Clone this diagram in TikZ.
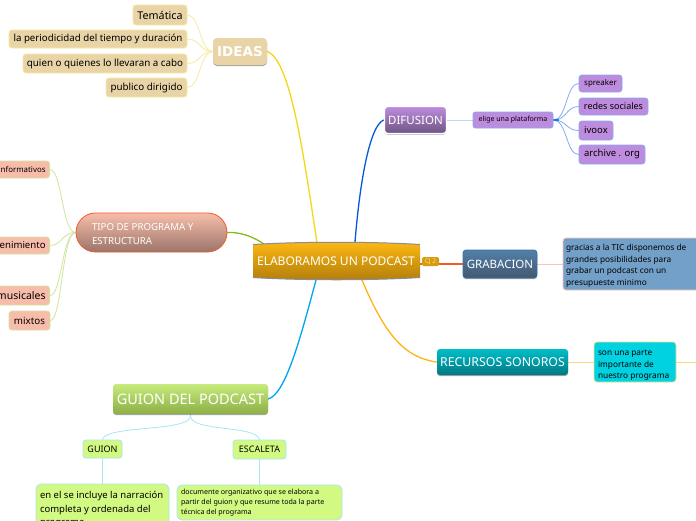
\documentclass[tikz,border=0pt]{standalone}
\usepackage{fontspec}
\setmainfont{Noto Sans}
\newfontfamily\dejab{DejaVu Sans}[BoldFont={DejaVu Sans Bold}]
\usetikzlibrary{shadows,backgrounds}
\definecolor{ideaf}{HTML}{E8D4A6}
\definecolor{ideab}{HTML}{F7EB9E}
\definecolor{tipof}{HTML}{F8BDAA}
\definecolor{tipob}{HTML}{CFE59E}
\definecolor{purf}{HTML}{BE8CDF}
\definecolor{purb}{HTML}{85ABF2}
\definecolor{grnf}{HTML}{D2FA82}
\definecolor{grnb}{HTML}{A8E4F6}
\newcommand{\fs}[2]{\fontsize{#1}{#2}\selectfont}
\tikzset{
  boxbase/.style={rounded corners=3pt,inner sep=0pt,line width=.8pt,text=black,align=center},
  idea/.style={boxbase,fill=ideaf,draw=ideab},
  tipo/.style={boxbase,fill=tipof,draw=tipob},
  purp/.style={boxbase,fill=purf,draw=purb},
  grn/.style={boxbase,fill=grnf,draw=grnb},
  para/.style={align=flush left,inner xsep=#1},
  softshadow/.style={drop shadow={shadow xshift=0pt,shadow yshift=-1pt,opacity=.35,fill=black}},
  mainline/.style={line width=1.3pt,line cap=round},
  subline/.style={line width=.8pt,line cap=round},
}
\begin{document}
\begin{tikzpicture}[x=1pt,y=-1pt]
\useasboundingbox (0,0) rectangle (696,520);
\clip (0,0) rectangle (696,520);
% ---- IDEAS branch
\node[idea,font=\fs{10.7}{12},minimum width=54pt,minimum height=20pt] (tem) at (160,15) {Temática};
\node[idea,font=\fs{9.7}{11},minimum width=178pt,minimum height=18pt] (per) at (98,39) {la periodicidad del tiempo y duración};
\node[idea,font=\fs{9.8}{11},minimum width=164pt,minimum height=19pt] (qui) at (105,63.5) {quien o quienes lo llevaran a cabo};
\node[idea,font=\fs{9.8}{11},minimum width=81pt,minimum height=19pt] (pub) at (146.5,87.5) {publico dirigido};
\node[boxbase,rounded corners=4pt,fill=ideaf,text=white,softshadow,font=\dejab\bfseries\fs{13.5}{15},minimum width=54pt,minimum height=27pt] (ideas) at (240,51.5) {IDEAS};
% ---- TIPO branch
\node[tipo,anchor=east,inner xsep=4pt,font=\fs{7.9}{9},minimum height=17pt] (inf) at (50,169.5) {informativos};
\node[tipo,anchor=east,inner xsep=4pt,font=\fs{9.6}{11},minimum height=17pt] (ent) at (50,245.5) {entretenimiento};
\node[tipo,anchor=east,inner xsep=4pt,font=\fs{10.5}{12},minimum height=19pt] (mus) at (50,295.5) {musicales};
\node[tipo,font=\fs{9.8}{11},minimum width=41pt,minimum height=19pt] (mix) at (29.5,320.5) {mixtos};
\node[boxbase,para=16pt,text width=119pt,text=white,text height=9.5pt,rounded corners=19.5pt,draw={rgb,255:red,240;green,90;blue,45},top color=tipof,bottom color=tipof!62!black,font=\fs{9.7}{14},minimum height=39pt] (tipog) at (151.5,232.5) {TIPO DE PROGRAMA Y\\ESTRUCTURA};
% ---- GUION branch
\node[boxbase,rounded corners=3pt,line width=0pt,text=white,top color={rgb,255:red,200;green,235;blue,125},bottom color={rgb,255:red,140;green,175;blue,70},softshadow,font=\fs{14.5}{16},minimum width=155pt,minimum height=30pt] (guiong) at (190.5,399) {GUION DEL PODCAST};
\node[grn,font=\fs{9}{11},minimum width=39pt,minimum height=18pt] (gui) at (102.5,449) {GUION};
\node[grn,font=\fs{9}{11},minimum width=53pt,minimum height=19pt] (esc) at (259.5,449.5) {ESCALETA};
\node[grn,para=4pt,rounded corners=5pt,text width=125pt,text height=13pt,font=\fs{9.5}{13.5},minimum height=46pt] (enel) at (102.5,507) {en el se incluye la narración\\completa y ordenada del\\programa};
\node[grn,para=4pt,rounded corners=5pt,text width=157pt,font=\fs{7.1}{10},minimum height=35pt] (doc) at (259.5,502.5) {documente organizativo que se elabora a\\partir del guion y que resume toda la parte\\técnica del programa};
% ---- DIFUSION branch
\node[boxbase,draw=white,line width=1.4pt,text=white,top color=purf,bottom color={rgb,255:red,110;green,85;blue,130},softshadow,font=\fs{11.5}{13},minimum width=62pt,minimum height=27pt] (dif) at (415.5,120) {DIFUSION};
\node[purp,rounded corners=2.5pt,font=\fs{7}{9},minimum width=80pt,minimum height=16pt] (eli) at (513,120) {elige una plataforma};
\node[purp,font=\fs{7.9}{10},minimum width=43pt,minimum height=17pt] (spr) at (600.5,83.5) {spreaker};
\node[purp,font=\fs{9}{11},minimum width=69pt,minimum height=17pt] (red) at (613.5,106.5) {redes sociales};
\node[purp,font=\fs{9.5}{11},minimum width=34pt,minimum height=19pt] (ivo) at (596,130.5) {ivoox};
\node[purp,font=\fs{9.5}{12},minimum width=66pt,minimum height=19pt] (arc) at (612,154.5) {archive . org};
% ---- GRABACION branch
\node[boxbase,draw={rgb,255:red,55;green,115;blue,170},text=white,top color={rgb,255:red,82;green,128;blue,168},bottom color={rgb,255:red,68;green,88;blue,112},softshadow,font=\fs{11.5}{13},minimum width=74pt,minimum height=28pt] (gra) at (500,264) {GRABACION};
\node[boxbase,para=3pt,draw={rgb,255:red,250;green,195;blue,185},fill={rgb,255:red,115;green,160;blue,200},text width=134pt,text height=10pt,font=\fs{8.3}{11.7},minimum height=52pt] (grac) at (633,264) {gracias a la TIC disponemos de\\grandes posibilidades para\\grabar un podcast con un\\presupueste minimo};
% ---- RECURSOS branch
\node[boxbase,line width=0pt,text=white,top color={rgb,255:red,0;green,190;blue,200},bottom color={rgb,255:red,0;green,120;blue,130},softshadow,font=\fs{12.3}{14},minimum width=131pt,minimum height=26pt] (rec) at (502.5,362) {RECURSOS SONOROS};
\node[boxbase,para=4pt,draw={rgb,255:red,240;green,225;blue,140},fill={rgb,255:red,0;green,210;blue,225},text width=74pt,text height=12pt,font=\fs{8.3}{11.8},minimum height=40pt] (son) at (635,362) {son una parte\\importante de\\nuestro programa};
% ---- central topic
\shade[top color={rgb,255:red,253;green,184;blue,19},bottom color={rgb,255:red,179;green,126;blue,11}]
  (253,244.5) .. controls (300,241.5) and (373,241.5) .. (420,244.5) -- (420,277.5) .. controls (373,280.5) and (300,280.5) .. (253,277.5) -- cycle;
\draw[line width=1pt,draw={rgb,255:red,135;green,140;blue,150}]
  (253,244.5) .. controls (300,241.5) and (373,241.5) .. (420,244.5)
  (253,277.5) .. controls (300,280.5) and (373,280.5) .. (420,277.5);
\node[inner sep=0pt,text=white,font=\fs{12}{14}] (cen) at (336,261) {ELABORAMOS UN PODCAST};
\node[rounded corners=1.5pt,inner sep=0pt,fill={rgb,255:red,215;green,155;blue,15},text={rgb,255:red,250;green,225;blue,160},font=\fs{6.5}{7},minimum width=17pt,minimum height=9pt] (badge) at (430.5,261.7) {CJ 2};
\coordinate (cA) at (317,243);
\coordinate (cB) at (264,244);
\coordinate (cC) at (316,280);
\coordinate (cD) at (355,242);
\coordinate (cE) at (362,280);
\coordinate (offR) at (696,362);
% ---- connectors
\begin{scope}[on background layer]
\fill[white] (0,0) rectangle (696,520);
\draw[mainline,draw={rgb,255:red,245;green,215;blue,20}] (ideas.east) .. controls (290,60) and (303,150) .. (cA);
\draw[mainline,draw={rgb,255:red,130;green,190;blue,20}] (tipog.east) .. controls (240,232) and (252,236) .. (cB);
\draw[mainline,draw={rgb,255:red,0;green,165;blue,240}] (guiong.east) .. controls (285,395) and (300,340) .. (cC);
\draw[mainline,draw={rgb,255:red,5;green,90;blue,215}] (dif.west) .. controls (370,125) and (360,180) .. (cD);
\draw[mainline,draw={rgb,255:red,255;green,180;blue,20}] (rec.west) .. controls (405,358) and (385,335) .. (cE);
\draw[mainline,draw={rgb,255:red,240;green,90;blue,45}] (420,264) -- (gra.west);
% ideas children
\foreach \t in {tem,per,qui,pub}
  \draw[subline,draw=ideab] (ideas.west) .. controls (200,51.5) and (200,0|-\t.east) .. (\t.east);
% tipo children
\foreach \t in {inf,ent,mus,mix}
  \draw[subline,draw=tipob] (tipog.west) .. controls (62,232.5) and (62,0|-\t.east) .. (\t.east);
% guion children
\draw[subline,draw=grnb] (guiong.south) -- ++(0,2) .. controls (190,432) and (105,425) .. (gui.north);
\draw[subline,draw=grnb] (guiong.south) -- ++(0,2) .. controls (191,432) and (257,425) .. (esc.north);
\draw[line width=.8pt,draw=grnb] (gui.south) -- (gui.south|-enel.north);
\draw[line width=.8pt,draw=grnb] (esc.south) -- (esc.south|-doc.north);
% difusion
\draw[line width=.8pt,draw={rgb,255:red,190;green,215;blue,250}] (dif.east) -- (eli.west);
\foreach \t in {spr,red,ivo,arc}
  \draw[subline,draw=purb] (eli.east) .. controls (567,120) and (566,0|-\t.west) .. (\t.west);
\draw[line width=1.2pt,draw={rgb,255:red,40;green,120;blue,220}] (eli.east) -- ++(6,0);
% grabacion, recursos
\draw[line width=.8pt,draw={rgb,255:red,250;green,195;blue,185}] (gra.east) -- (grac.west);
\draw[line width=.8pt,draw={rgb,255:red,252;green,215;blue,130}] (rec.east) -- (son.west);
\draw[line width=.8pt,draw={rgb,255:red,252;green,215;blue,130}] (son.east) -- (offR);
\end{scope}
\end{tikzpicture}
\end{document}
